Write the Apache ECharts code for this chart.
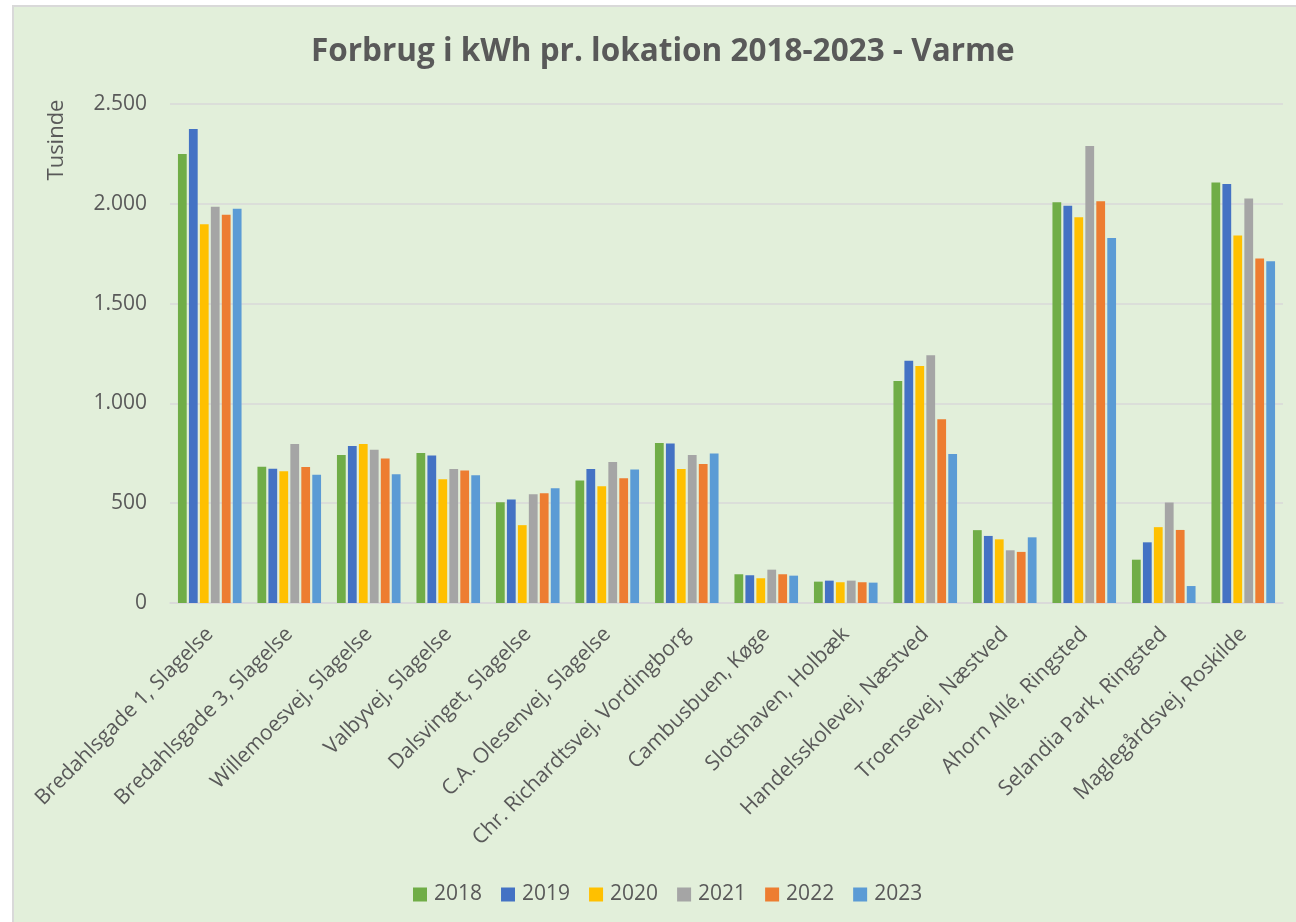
<!DOCTYPE html>
<html>
<head>
<meta charset="utf-8">
<script src="https://cdn.jsdelivr.net/npm/echarts@6/dist/echarts.min.js"></script>
<style>
html,body{margin:0;padding:0;background:#fff;width:1296px;height:922px;overflow:hidden;}
#c{position:absolute;left:12px;top:5px;width:1284px;height:917px;background:#E2EFDA;border-left:2px solid #D9D9D9;border-top:2px solid #D9D9D9;box-sizing:border-box;}
</style>
</head>
<body>
<div id="c"></div>
<script>
const categories = [
  "Bredahlsgade 1, Slagelse",
  "Bredahlsgade 3, Slagelse",
  "Willemoesvej, Slagelse",
  "Valbyvej, Slagelse",
  "Dalsvinget, Slagelse",
  "C.A. Olesenvej, Slagelse",
  "Chr. Richardtsvej, Vordingborg",
  "Cambusbuen, Køge",
  "Slotshaven, Holbæk",
  "Handelsskolevej, Næstved",
  "Troensevej, Næstved",
  "Ahorn Allé, Ringsted",
  "Selandia Park, Ringsted",
  "Maglegårdsvej, Roskilde"
];
const years = ["2018","2019","2020","2021","2022","2023"];
// values in thousands of kWh
const v2018 = [2249, 682, 741, 751, 505, 614, 801, 144, 107, 1112, 365, 2008, 217, 2107];
const v2019 = [2375, 672, 786, 739, 518, 671, 799, 139, 112, 1214, 336, 1990, 304, 2099];
const v2020 = [1898, 660, 796, 620, 390, 585, 671, 124, 104, 1187, 319, 1933, 380, 1841];
const v2021 = [1985, 796, 768, 671, 545, 706, 741, 167, 112, 1241, 264, 2289, 503, 2027];
const v2022 = [1945, 681, 724, 664, 550, 625, 697, 144, 104, 920, 256, 2013, 366, 1726];
const v2023 = [1975, 642, 645, 640, 575, 669, 749, 137, 102, 746, 329, 1829, 85, 1712];
const seriesValues = [v2018, v2019, v2020, v2021, v2022, v2023];
const colors = ["#70AD47","#4472C4","#FFC000","#A5A5A5","#ED7D31","#5B9BD5"];
const yTicks = [0, 500, 1000, 1500, 2000, 2500];

const txt = "#595959";
const font = "Open Sans";
const chart = echarts.init(document.getElementById('c'), null, {renderer:'canvas'});
chart.setOption({
  animation:false,
  backgroundColor:'transparent',
  color: colors,
  title:{
    text:"Forbrug i kWh pr. lokation 2018-2023 - Varme",
    left:292, top:24,
    textStyle:{fontFamily:font, fontWeight:'bold', fontSize:31.5, color:txt}
  },
  graphic:[{
    type:'text', x:43, y:133, rotation:Math.PI/2,
    style:{text:'Tusinde', fontFamily:font, fontSize:22, fill:txt, textAlign:'center', textVerticalAlign:'middle'}
  }],
  legend:{
    data: years, bottom: 12, left:394,
    itemWidth:14, itemHeight:14, itemGap:19,
    icon:'rect',
    textStyle:{fontFamily:font, fontSize:21, color:txt, padding:[0,0,0,2]}
  },
  grid:{left:156, top:97, right:13, bottom:319, containLabel:false},
  xAxis:{
    type:'category', data:categories,
    axisLine:{lineStyle:{color:'#D9D9D9', width:1.5}},
    axisTick:{show:false},
    axisLabel:{rotate:45, interval:0, margin:28, fontFamily:font, fontSize:21, color:txt}
  },
  yAxis:{
    type:'value', min:yTicks[0], max:yTicks[yTicks.length-1], interval:500,
    axisLine:{show:false}, axisTick:{show:false},
    splitLine:{lineStyle:{color:'#D9D9D9', width:1.5}},
    axisLabel:{margin:23, fontFamily:font, fontSize:21, color:txt,
      formatter:function(v){return v.toString().replace(/\B(?=(\d{3})+(?!\d))/g,'.');}}
  },
  series: years.map(function(y,i){
    return {name:y, type:'bar', data:seriesValues[i], barGap:'25%', barCategoryGap:'20%'};
  })
});
</script>
</body>
</html>
